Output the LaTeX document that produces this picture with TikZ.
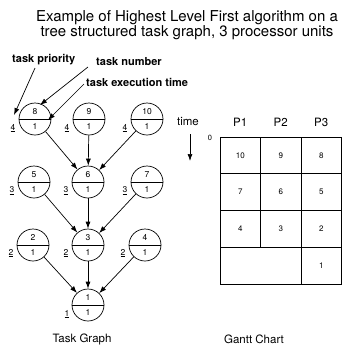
\documentclass[tikz,border=0pt]{standalone}
\usepackage{fontspec}
\setmainfont{TeX Gyre Heros}
\usetikzlibrary{arrows.meta}

\tikzset{
	task/.style={circle, draw, line width=0.7pt, minimum size=32pt, inner sep=0pt,
		align=center, font=\fontsize{8.5}{15}\selectfont,
		path picture={\draw[line width=0.7pt] (path picture bounding box.west) -- (path picture bounding box.east);}},
	prio/.style={font=\fontsize{8.5}{9}\selectfont, inner sep=1pt},
	dep/.style={-{Latex[length=7pt,width=5pt]}, line width=0.7pt},
	note/.style={font=\bfseries\fontsize{11}{12}\selectfont, inner sep=0pt, anchor=west},
	cell/.style={draw, line width=0.6pt, minimum width=40.5pt, minimum height=36.75pt,
		inner sep=0pt, font=\fontsize{8}{9}\selectfont},
	head/.style={font=\fontsize{11.5}{13}\selectfont},
}

\begin{document}
\begin{tikzpicture}[x=1pt,y=-1pt]
	\useasboundingbox (0,0) rectangle (343,354);

	\node[align=center, font=\fontsize{15}{15.5}\selectfont] (title) at (187,25)
		{Example of Highest Level First algorithm on a\\tree structured task graph, 3 processor units};

	% task graph
	\node[task] (t8) at (35,119) {8\\1};
	\node[task] (t9) at (89,119) {9\\1};
	\node[task] (t10) at (147,119) {10\\1};
	\node[task] (t5) at (34,182) {5\\1};
	\node[task] (t6) at (88,182) {6\\1};
	\node[task] (t7) at (147,182) {7\\1};
	\node[task] (t2) at (33,245) {2\\1};
	\node[task] (t3) at (88,245) {3\\1};
	\node[task] (t4) at (145,245) {4\\1};
	\node[task] (t1) at (88,305) {1\\1};

	% priorities
	\node[prio] (p8) at ([shift={(-22,9)}]t8.center) {\underline{4}};
	\node[prio] (p9) at ([shift={(-22,9)}]t9.center) {\underline{4}};
	\node[prio] (p10) at ([shift={(-22,9)}]t10.center) {\underline{4}};
	\node[prio] (p5) at ([shift={(-22,9)}]t5.center) {\underline{3}};
	\node[prio] (p6) at ([shift={(-22,9)}]t6.center) {\underline{3}};
	\node[prio] (p7) at ([shift={(-22,9)}]t7.center) {\underline{3}};
	\node[prio] (p2) at ([shift={(-22,8)}]t2.center) {\underline{2}};
	\node[prio] (p3) at ([shift={(-22,8)}]t3.center) {\underline{2}};
	\node[prio] (p4) at ([shift={(-22,8)}]t4.center) {\underline{2}};
	\node[prio] (p1) at ([shift={(-21,9)}]t1.center) {\underline{1}};

	\draw[dep] (t8) -- (t6);
	\draw[dep] (t9) -- (t6);
	\draw[dep] (t10) -- (t6);
	\draw[dep] (t5) -- (t3);
	\draw[dep] (t6) -- (t3);
	\draw[dep] (t7) -- (t3);
	\draw[dep] (t2) -- (t1);
	\draw[dep] (t3) -- (t1);
	\draw[dep] (t4) -- (t1);

	% legend
	\node[note] (lprio) at (12,60) {task priority};
	\node[note] (lnum) at (96,62) {task number};
	\node[note] (lexec) at (86,82) {task execution time};
	\coordinate (a1) at (35,68);
	\coordinate (a2) at (88,67);
	\coordinate (a3) at (84,84);
	\coordinate (b1) at (14,115);
	\coordinate (b2) at (40,105);
	\coordinate (b3) at (48,120);
	\draw[dep] (a1) -- (b1);
	\draw[dep] (a2) -- (b2);
	\draw[dep] (a3) -- (b3);

	\node[head] (tg) at (82,339) {Task Graph};

	% gantt chart
	\node[head] (time) at (188,122) {time};
	\coordinate (tdown) at (190,161);
	\draw[dep] (190,134) -- (tdown);
	\node[font=\fontsize{7.5}{8}\selectfont] (t0) at (210,138) {0};

	\node[head] (P1) at (240.25,122) {P1};
	\node[head] (P2) at (280.75,122) {P2};
	\node[head] (P3) at (321.25,122) {P3};

	\node[cell] (c10) at (240.25,155.4) {10};
	\node[cell] (c9) at (280.75,155.4) {9};
	\node[cell] (c8) at (321.25,155.4) {8};
	\node[cell] (c7) at (240.25,192.1) {7};
	\node[cell] (c6) at (280.75,192.1) {6};
	\node[cell] (c5) at (321.25,192.1) {5};
	\node[cell] (c4) at (240.25,228.9) {4};
	\node[cell] (c3) at (280.75,228.9) {3};
	\node[cell] (c2) at (321.25,228.9) {2};
	\node[cell, minimum width=81pt] (cidle) at (260.5,265.6) {};
	\node[cell] (c1) at (321.25,265.6) {1};

	\node[head] (gc) at (254,339) {Gantt Chart};
\end{tikzpicture}
\end{document}
